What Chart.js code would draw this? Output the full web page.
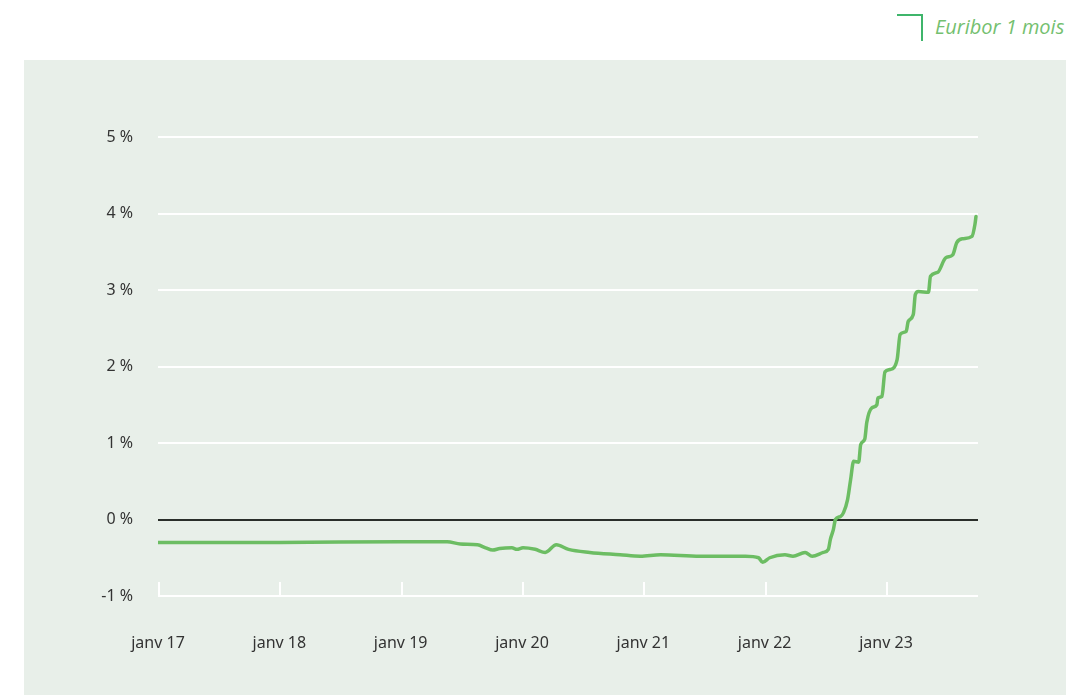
<!DOCTYPE html>
<html lang="fr">
<head>
<meta charset="utf-8">
<script src="https://cdn.jsdelivr.net/npm/chart.js@4.4.0/dist/chart.umd.min.js"></script>
<style>
    body { margin: 0; width: 1077px; height: 695px; background: #fff; position: relative; overflow: hidden; font-family: "Noto Sans", sans-serif; }
    #panel { position: absolute; left: 24px; top: 60px; width: 1042px; height: 635px; background: #e8efe9; }
    #legendMark { position: absolute; left: 897px; top: 14px; width: 24px; height: 25px; border-top: 2px solid #3fb56b; border-right: 2px solid #3fb56b; }
    #legendText { position: absolute; left: 935px; top: 13px; font-family: "Open Sans", sans-serif; font-style: italic; font-weight: 400; font-size: 20px; color: #74c06f; }
</style>
</head>
<body>
<div id="legendMark"></div>
<div id="legendText">Euribor 1 mois</div>
<div id="panel"><canvas id="euriborChart" width="1042" height="635"></canvas></div>
<script>
// mois écoulés depuis janv 2017
const months = [0, 12, 24, 28.6, 29.9, 31.6, 32.4, 33.1, 33.8, 35.0, 35.5, 36.1, 37.3, 38.3, 39.4, 40.6,
    42.7, 45.7, 47.7, 49.7, 53.6, 58.1, 59.4, 59.8, 60.5, 62.0, 62.8, 64.0, 64.7, 65.8, 66.3, 66.5,
    66.8, 67.0, 67.5, 67.8, 68.2, 68.5, 68.8, 69.3, 69.5, 69.9, 70.1, 70.6, 71.1, 71.2, 71.6, 71.9,
    72.4, 73.1, 73.4, 74.0, 74.2, 74.7, 74.9, 75.2, 76.2, 76.4, 77.1, 77.9, 78.6, 79.0, 79.6, 80.5,
    80.8, 80.9];
// Euribor 1 mois (%)
const euribor = [-0.30, -0.30, -0.29, -0.29, -0.32, -0.33, -0.37, -0.40, -0.38, -0.37, -0.39, -0.37, -0.39, -0.43, -0.33, -0.39,
    -0.43, -0.46, -0.48, -0.46, -0.48, -0.48, -0.50, -0.56, -0.50, -0.46, -0.48, -0.43, -0.48, -0.43, -0.39, -0.26,
    -0.13, 0.00, 0.04, 0.09, 0.26, 0.52, 0.76, 0.75, 0.98, 1.05, 1.27, 1.46, 1.50, 1.59, 1.61, 1.93,
    1.96, 2.09, 2.42, 2.46, 2.59, 2.68, 2.94, 2.98, 2.97, 3.18, 3.23, 3.42, 3.46, 3.62, 3.67, 3.70,
    3.86, 3.96];
const xTickLabels = ['janv 17', 'janv 18', 'janv 19', 'janv 20', 'janv 21', 'janv 22', 'janv 23'];

const points = months.map((m, i) => ({ x: m, y: euribor[i] }));

// petits traits verticaux sur l'axe du bas
const bottomTicks = {
    id: 'bottomTicks',
    beforeDatasetsDraw(chart) {
        const { ctx, scales: { x, y } } = chart;
        const base = y.getPixelForValue(-1);
        ctx.save();
        ctx.strokeStyle = '#ffffff';
        ctx.lineWidth = 2;
        x.ticks.forEach(t => {
            const px = Math.round(x.getPixelForValue(t.value)) + 1;
            ctx.beginPath();
            ctx.moveTo(px, base);
            ctx.lineTo(px, base - 14);
            ctx.stroke();
        });
        ctx.restore();
    }
};

const ctx = document.getElementById('euriborChart').getContext('2d');
new Chart(ctx, {
    type: 'line',
    data: {
        datasets: [{
            label: 'Euribor 1 mois',
            data: points,
            borderColor: '#6cbd63',
            borderWidth: 3.5,
            pointRadius: 0,
            cubicInterpolationMode: 'monotone',
            borderJoinStyle: 'round',
            borderCapStyle: 'round',
            fill: false
        }]
    },
    options: {
        responsive: false,
        animation: false,
        layout: { padding: { top: 77, right: 88, left: 0, bottom: 0 } },
        plugins: { legend: { display: false }, tooltip: { enabled: false } },
        scales: {
            x: {
                type: 'linear',
                min: 0,
                max: 81.1,
                afterFit: s => { s.height = 99; },
                border: { display: false },
                grid: { display: false, drawTicks: false },
                ticks: {
                    stepSize: 12,
                    includeBounds: false,
                    autoSkip: false,
                    maxRotation: 0,
                    padding: 38,
                    color: '#333',
                    font: { family: 'Noto Sans', size: 16 },
                    callback: v => xTickLabels[v / 12]
                }
            },
            y: {
                min: -1,
                max: 5,
                afterFit: s => { s.width = 134; },
                border: { display: false },
                grid: {
                    drawTicks: false,
                    lineWidth: 2,
                    color: c => c.tick.value === 0 ? '#2a2e2a' : '#ffffff'
                },
                ticks: {
                    stepSize: 1,
                    padding: 25,
                    color: '#333',
                    font: { family: 'Noto Sans', size: 16 },
                    callback: v => v + ' %'
                }
            }
        }
    },
    plugins: [bottomTicks]
});
</script>
</body>
</html>
